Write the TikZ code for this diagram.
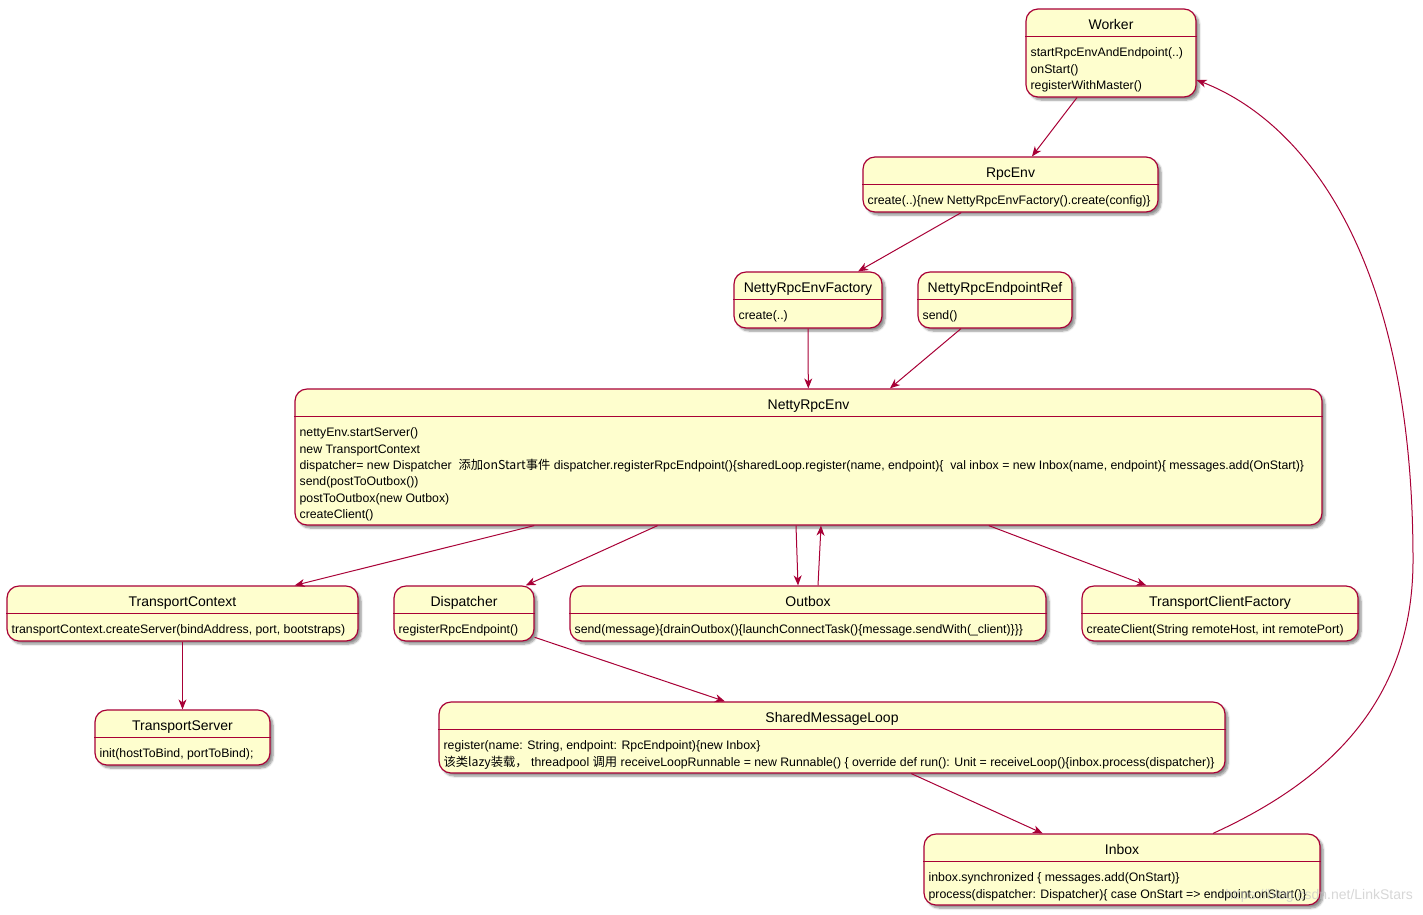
\documentclass[tikz,border=0pt]{standalone}
\usepackage{fontspec}
\setmainfont{Liberation Sans}
\newfontfamily\cjk{Noto Sans CJK SC}
\usetikzlibrary{arrows.meta,calc,shadows.blur}
\definecolor{umlfill}{HTML}{FEFECE}
\definecolor{umlline}{HTML}{A80036}
\newcommand{\lnstrut}{\rule{0pt}{10pt}}

\begin{document}
\begin{tikzpicture}[x=1pt, y=-1pt,
    state/.style={rectangle, draw=umlline, fill=umlfill, line width=1.2pt, rounded corners=12pt, inner sep=0pt, blur shadow={shadow xshift=3pt, shadow yshift=-3pt, shadow blur steps=6, shadow opacity=45}},
    title/.style={font=\fontsize{14}{16}\selectfont, anchor=base, inner sep=0pt},
    body/.style={font=\fontsize{12.3}{16.4}\selectfont, anchor=north west, align=left, inner sep=0pt},
    divider/.style={draw=umlline, line width=1.2pt},
    flow/.style={draw=umlline, line width=1pt, -{Stealth[length=10pt, width=8pt, inset=3pt]}},
]
\useasboundingbox (0,0) rectangle (1423,914);
% states
\node[state, minimum width=170pt, minimum height=88pt] (worker) at (1111,53) {};
\node[state, minimum width=295pt, minimum height=55pt] (rpcenv) at (1010.5,184.5) {};
\node[state, minimum width=148pt, minimum height=56pt] (factory) at (808,300) {};
\node[state, minimum width=154pt, minimum height=56pt] (endpointref) at (995,300) {};
\node[state, minimum width=1027pt, minimum height=136pt] (nettyenv) at (808.5,457) {};
\node[state, minimum width=351pt, minimum height=55pt] (tcontext) at (182.5,613.5) {};
\node[state, minimum width=140pt, minimum height=55pt] (dispatcher) at (464,613.5) {};
\node[state, minimum width=476pt, minimum height=55pt] (outbox) at (808,613.5) {};
\node[state, minimum width=276pt, minimum height=55pt] (tcfactory) at (1220,613.5) {};
\node[state, minimum width=175pt, minimum height=55pt] (tserver) at (182.5,737.5) {};
\node[state, minimum width=786pt, minimum height=71pt] (sharedloop) at (832,737.5) {};
\node[state, minimum width=396pt, minimum height=71pt] (inbox) at (1122,869.5) {};
% dividers
\draw[divider] ($(worker.north west)+(0,28)$) -- ($(worker.north east)+(0,28)$);
\draw[divider] ($(rpcenv.north west)+(0,28)$) -- ($(rpcenv.north east)+(0,28)$);
\draw[divider] ($(factory.north west)+(0,28)$) -- ($(factory.north east)+(0,28)$);
\draw[divider] ($(endpointref.north west)+(0,28)$) -- ($(endpointref.north east)+(0,28)$);
\draw[divider] ($(nettyenv.north west)+(0,28)$) -- ($(nettyenv.north east)+(0,28)$);
\draw[divider] ($(tcontext.north west)+(0,28)$) -- ($(tcontext.north east)+(0,28)$);
\draw[divider] ($(dispatcher.north west)+(0,28)$) -- ($(dispatcher.north east)+(0,28)$);
\draw[divider] ($(outbox.north west)+(0,28)$) -- ($(outbox.north east)+(0,28)$);
\draw[divider] ($(tcfactory.north west)+(0,28)$) -- ($(tcfactory.north east)+(0,28)$);
\draw[divider] ($(tserver.north west)+(0,28)$) -- ($(tserver.north east)+(0,28)$);
\draw[divider] ($(sharedloop.north west)+(0,28)$) -- ($(sharedloop.north east)+(0,28)$);
\draw[divider] ($(inbox.north west)+(0,28)$) -- ($(inbox.north east)+(0,28)$);
% titles
\node[title] (workerT) at ($(worker.north)+(0,21)$) {Worker};
\node[title] (rpcenvT) at ($(rpcenv.north)+(0,21)$) {RpcEnv};
\node[title] (factoryT) at ($(factory.north)+(0,21)$) {NettyRpcEnvFactory};
\node[title] (endpointrefT) at ($(endpointref.north)+(0,21)$) {NettyRpcEndpointRef};
\node[title] (nettyenvT) at ($(nettyenv.north)+(0,21)$) {NettyRpcEnv};
\node[title] (tcontextT) at ($(tcontext.north)+(0,21)$) {TransportContext};
\node[title] (dispatcherT) at ($(dispatcher.north)+(0,21)$) {Dispatcher};
\node[title] (outboxT) at ($(outbox.north)+(0,21)$) {Outbox};
\node[title] (tcfactoryT) at ($(tcfactory.north)+(0,21)$) {TransportClientFactory};
\node[title] (tserverT) at ($(tserver.north)+(0,21)$) {TransportServer};
\node[title] (sharedloopT) at ($(sharedloop.north)+(0,21)$) {SharedMessageLoop};
\node[title] (inboxT) at ($(inbox.north)+(0,21)$) {Inbox};
% bodies
\node[body] (workerB) at ($(worker.north west)+(5,38)$) {\lnstrut startRpcEnvAndEndpoint(..)\\onStart()\\registerWithMaster()};
\node[body] (rpcenvB) at ($(rpcenv.north west)+(5,38)$) {\lnstrut create(..)\{new NettyRpcEnvFactory().create(config)\}};
\node[body] (factoryB) at ($(factory.north west)+(5,38)$) {\lnstrut create(..)};
\node[body] (endpointrefB) at ($(endpointref.north west)+(5,38)$) {\lnstrut send()};
\node[body] (nettyenvB) at ($(nettyenv.north west)+(5,38)$) {\lnstrut nettyEnv.startServer()\\new TransportContext\\dispatcher= new Dispatcher\ \ {\cjk 添加onStart事件} dispatcher.registerRpcEndpoint()\{sharedLoop.register(name, endpoint)\{\ \ val inbox = new Inbox(name, endpoint)\{ messages.add(OnStart)\}\\send(postToOutbox())\\postToOutbox(new Outbox)\\createClient()};
\node[body] (tcontextB) at ($(tcontext.north west)+(5,38)$) {\lnstrut transportContext.createServer(bindAddress, port, bootstraps)};
\node[body] (dispatcherB) at ($(dispatcher.north west)+(5,38)$) {\lnstrut registerRpcEndpoint()};
\node[body] (outboxB) at ($(outbox.north west)+(5,38)$) {\lnstrut send(message)\{drainOutbox()\{launchConnectTask()\{message.sendWith(\_client)\}\}\}};
\node[body] (tcfactoryB) at ($(tcfactory.north west)+(5,38)$) {\lnstrut createClient(String remoteHost, int remotePort)};
\node[body] (tserverB) at ($(tserver.north west)+(5,38)$) {\lnstrut init(hostToBind, portToBind);};
\node[body] (sharedloopB) at ($(sharedloop.north west)+(5,38)$) {\lnstrut register(name: String, endpoint: RpcEndpoint)\{new Inbox\}\\{\cjk 该类lazy装载，}\ threadpool {\cjk 调用} receiveLoopRunnable = new Runnable() \{ override def run(): Unit = receiveLoop()\{inbox.process(dispatcher)\}};
\node[body] (inboxB) at ($(inbox.north west)+(5,38)$) {\lnstrut inbox.synchronized \{ messages.add(OnStart)\}\\process(dispatcher: Dispatcher)\{ case OnStart => endpoint.onStart()\}};
% connectors
\draw[flow] (worker) -- (rpcenv);
\draw[flow] (rpcenv) -- (factory);
\draw[flow] (factory) -- (nettyenv);
\draw[flow] (endpointref) -- (nettyenv);
\draw[flow] (nettyenv) -- (tcontext);
\draw[flow] (nettyenv) -- (dispatcher);
\draw[flow] ([xshift=-12.5pt]nettyenv.south) -- ([xshift=-10pt]outbox.north);
\draw[flow] ([xshift=10pt]outbox.north) -- ([xshift=12.5pt]nettyenv.south);
\draw[flow] (nettyenv) -- (tcfactory);
\draw[flow] (tcontext) -- (tserver);
\draw[flow] (dispatcher) -- (sharedloop);
\draw[flow] (sharedloop) -- (inbox);
\draw[flow] ($(inbox.north)+(91,0)$) .. controls (1330,780) and (1413,700) .. (1413,560) .. controls (1413,250) and (1300,120) .. ($(worker.east)+(0,27)$);
% watermark
\node[font=\fontsize{14}{16}\selectfont, text=gray!45, opacity=0.7, anchor=east, inner sep=0pt] (wmark) at (1413,896) {https://blog.csdn.net/LinkStars};
\end{tikzpicture}
\end{document}
